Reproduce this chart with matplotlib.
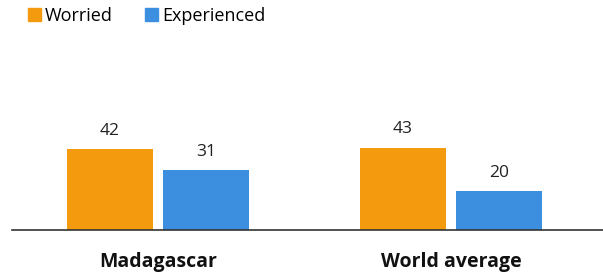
import numpy as np
import matplotlib.pyplot as plt
from matplotlib.patches import Patch

plt.rcParams['font.family'] = ['Open Sans', 'DejaVu Sans']

categories = ['Madagascar', 'World average']
series = ['Worried', 'Experienced']
worried = [42, 43]
experienced = [31, 20]
colors = ['#F39A0F', '#3C8EDF']

fig = plt.figure(figsize=(6.03, 2.73), dpi=100)
ax = fig.add_axes([12 / 603, 1 - 229.5 / 273, 591 / 603, 190.5 / 273])

x = np.arange(len(categories))
w = 0.2935
off = 0.1638
b1 = ax.bar(x - off, worried, w, color=colors[0])
b2 = ax.bar(x + off, experienced, w, color=colors[1])

for bars, vals in ((b1, worried), (b2, experienced)):
    for bar, v in zip(bars, vals):
        ax.text(bar.get_x() + bar.get_width() / 2, v + 7.6, str(v),
                ha='center', va='baseline', fontsize=12.5, color='#222222')

ax.set_xlim(-0.498, 1.519)
ax.set_ylim(0, 100)
ax.set_yticks([])
ax.set_xticks(x)
ax.set_xticklabels(categories, fontsize=14, fontweight='bold', color='#111111')
ax.tick_params(axis='x', length=0, pad=16)
for s in ['top', 'right', 'left']:
    ax.spines[s].set_visible(False)
ax.spines['bottom'].set_color('#333333')
ax.spines['bottom'].set_linewidth(1.2)

handles = [Patch(color=c, label=l) for c, l in zip(colors, series)]
fig.legend(handles=handles, loc='upper left', bbox_to_anchor=(0.020, 1.035),
           ncol=2, frameon=False, fontsize=13, handlelength=0.68, handleheight=0.68,
           handletextpad=0.25, columnspacing=1.8)

fig.savefig('out.png', dpi=100)
